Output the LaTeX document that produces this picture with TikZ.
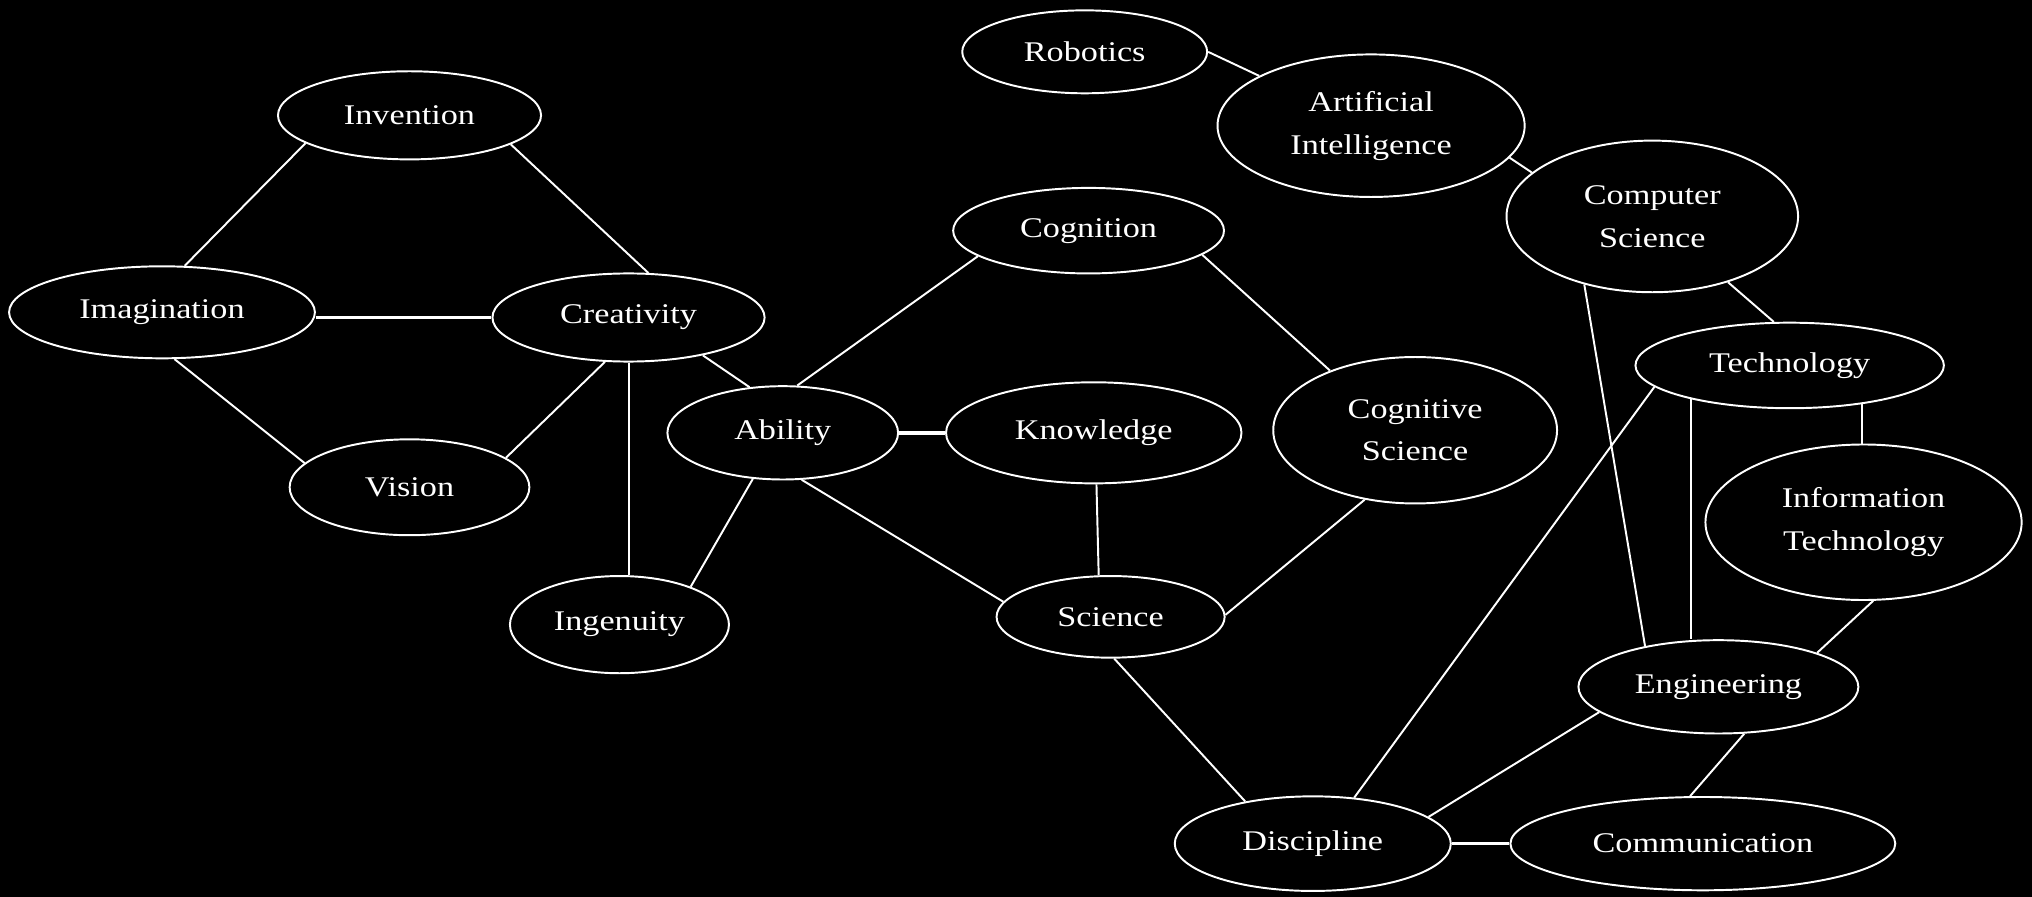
\documentclass[tikz,border=0pt]{standalone}
\usepackage{fontspec}
\newfontfamily\nodefont{Liberation Serif}[FakeStretch=1.2]
\usetikzlibrary{shapes.geometric}
\begin{document}
\begin{tikzpicture}[x=1pt,y=-1pt,
  concept/.style={ellipse,draw=white,line width=1.5pt,text=white,inner sep=0pt,
    font=\nodefont\fontsize{22}{33}\selectfont,align=center},
  link/.style={draw=white,line width=1.5pt},
  dlink/.style={draw=white,line width=2.6pt}]
\fill[black] (0,0) rectangle (1568,692);
\useasboundingbox (0,0) rectangle (1568,692);
% nodes
\node[concept,minimum width=189pt,minimum height=64pt] (rob) at (837,40) {Robotics};
\node[concept,minimum width=237pt,minimum height=110pt] (ai) at (1058,97) {Artificial\\Intelligence};
\node[concept,minimum width=203pt,minimum height=68pt] (inv) at (316,89) {Invention};
\node[concept,minimum width=225pt,minimum height=117pt] (cs) at (1275,167) {Computer\\Science};
\node[concept,minimum width=209pt,minimum height=66pt] (cog) at (840,178) {Cognition};
\node[concept,minimum width=236pt,minimum height=71pt] (ima) at (125,241) {Imagination};
\node[concept,minimum width=210pt,minimum height=68pt] (cre) at (485,245) {Creativity};
\node[concept,minimum width=238pt,minimum height=66pt] (tec) at (1381,282) {Technology};
\node[concept,minimum width=178pt,minimum height=72pt] (abi) at (604,334) {Ability};
\node[concept,minimum width=228pt,minimum height=78pt] (kno) at (844,334) {Knowledge};
\node[concept,minimum width=219pt,minimum height=113pt] (cgs) at (1092,332) {Cognitive\\Science};
\node[concept,minimum width=185pt,minimum height=74pt] (vis) at (316,376) {Vision};
\node[concept,minimum width=244pt,minimum height=120pt] (it) at (1438,403) {Information\\Technology};
\node[concept,minimum width=169pt,minimum height=75pt] (ing) at (478,482) {Ingenuity};
\node[concept,minimum width=176pt,minimum height=63pt] (sci) at (857,476) {Science};
\node[concept,minimum width=216pt,minimum height=72pt] (eng) at (1326,530) {Engineering};
\node[concept,minimum width=213pt,minimum height=73pt] (dis) at (1013,651) {Discipline};
\node[concept,minimum width=297pt,minimum height=72pt] (com) at (1314,651) {Communication};
% connectors
\draw[link] (inv.195) -- (ima.64);
\draw[link] (inv.344) -- (cre.66);
\draw[dlink] (cre.west -| ima.east) -- (cre.west);
\draw[link] (ima.285) -- (vis.167);
\draw[link] (cre.242) -- (vis.17);
\draw[link] (cre.south) -- (cre.south |- ing.north);
\draw[link] (cre.333) -- (abi.126);
\draw[link] (abi.237) -- (ing.28);
\draw[link] (abi.73) -- (cog.193);
\draw[dlink] (abi.east) -- (kno.west);
\draw[link] (abi.292) -- (sci.172);
\draw[link] (kno.273) -- (sci.106);
\draw[link] (cog.348) -- (cgs.145);
\draw[link] (cgs.234) -- (sci.1);
\draw[link] (sci.275) -- (dis.148);
\draw[link] (rob.east) -- (ai.156);
\draw[link] (ai.347) -- (cs.160);
\draw[link] (cs.319) -- (tec.110);
\draw[link] (cs.225) -- (eng.151);
\draw[link] (tec.189) -- (dis.48);
\draw[link] (tec.199) -- (tec.199 |- eng.north);
\draw[link] (tec.332) -- (tec.332 |- it.north);
\draw[link] (it.277) -- (eng.19.5);
\draw[link] (eng.192) -- (dis.13);
\draw[link] (eng.299) -- (com.105);
\draw[dlink] (dis.east) -- (com.west);
\end{tikzpicture}
\end{document}
